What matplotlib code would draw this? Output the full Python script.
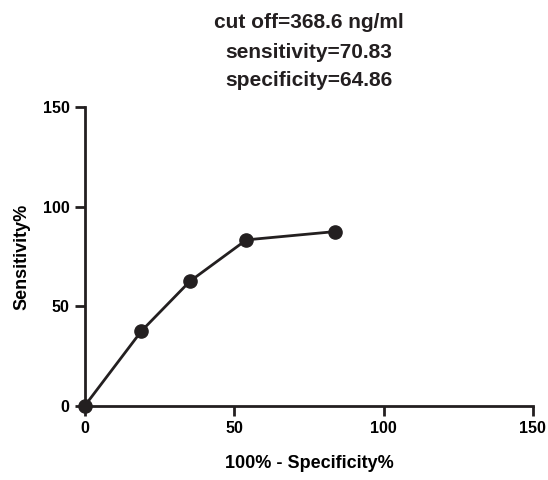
import matplotlib.pyplot as plt

# ROC points
fpr = [0, 18.92, 35.14, 54.05, 83.78]   # 100% - specificity%
tpr = [0, 37.5, 62.5, 83.33, 87.5]      # sensitivity%

x_ticks = [0, 50, 100, 150]
y_ticks = [0, 50, 100, 150]
title_lines = ["cut off=368.6 ng/ml", "sensitivity=70.83", "specificity=64.86"]

plt.rcParams['font.family'] = ['Liberation Sans', 'DejaVu Sans']
plt.rcParams['font.weight'] = 'bold'

fig = plt.figure(figsize=(5.48, 4.8), dpi=100)
ax = fig.add_axes([0.155, 0.155, 0.8175, 0.6215])

ax.plot(fpr, tpr, color='#231f20', lw=2, marker='o', ms=9.5, clip_on=False, zorder=3)

ax.set_xlim(0, 150)
ax.set_ylim(0, 150)
ax.set_xticks(x_ticks)
ax.set_yticks(y_ticks)

for s in ['top', 'right']:
    ax.spines[s].set_visible(False)
for s in ['left', 'bottom']:
    ax.spines[s].set_linewidth(2)
    ax.spines[s].set_color('#231f20')
ax.tick_params(width=2, length=7, color='#231f20', labelsize=11.5)
ax.tick_params(axis='x', pad=4)
ax.tick_params(axis='y', pad=4)

ax.set_xlabel('100% - Specificity%', fontsize=13, fontweight='bold', labelpad=14)
ax.set_ylabel('Sensitivity%', fontsize=13, fontweight='bold', labelpad=9)

# three-line title above the axes
ys = [22, 53, 80]
for txt, y in zip(title_lines, ys):
    fig.text(0.5636, 1 - y / 480, txt, ha='center', va='center',
             fontsize=15, fontweight='bold', color='#231f20')

fig.savefig('out.png', dpi=100)
